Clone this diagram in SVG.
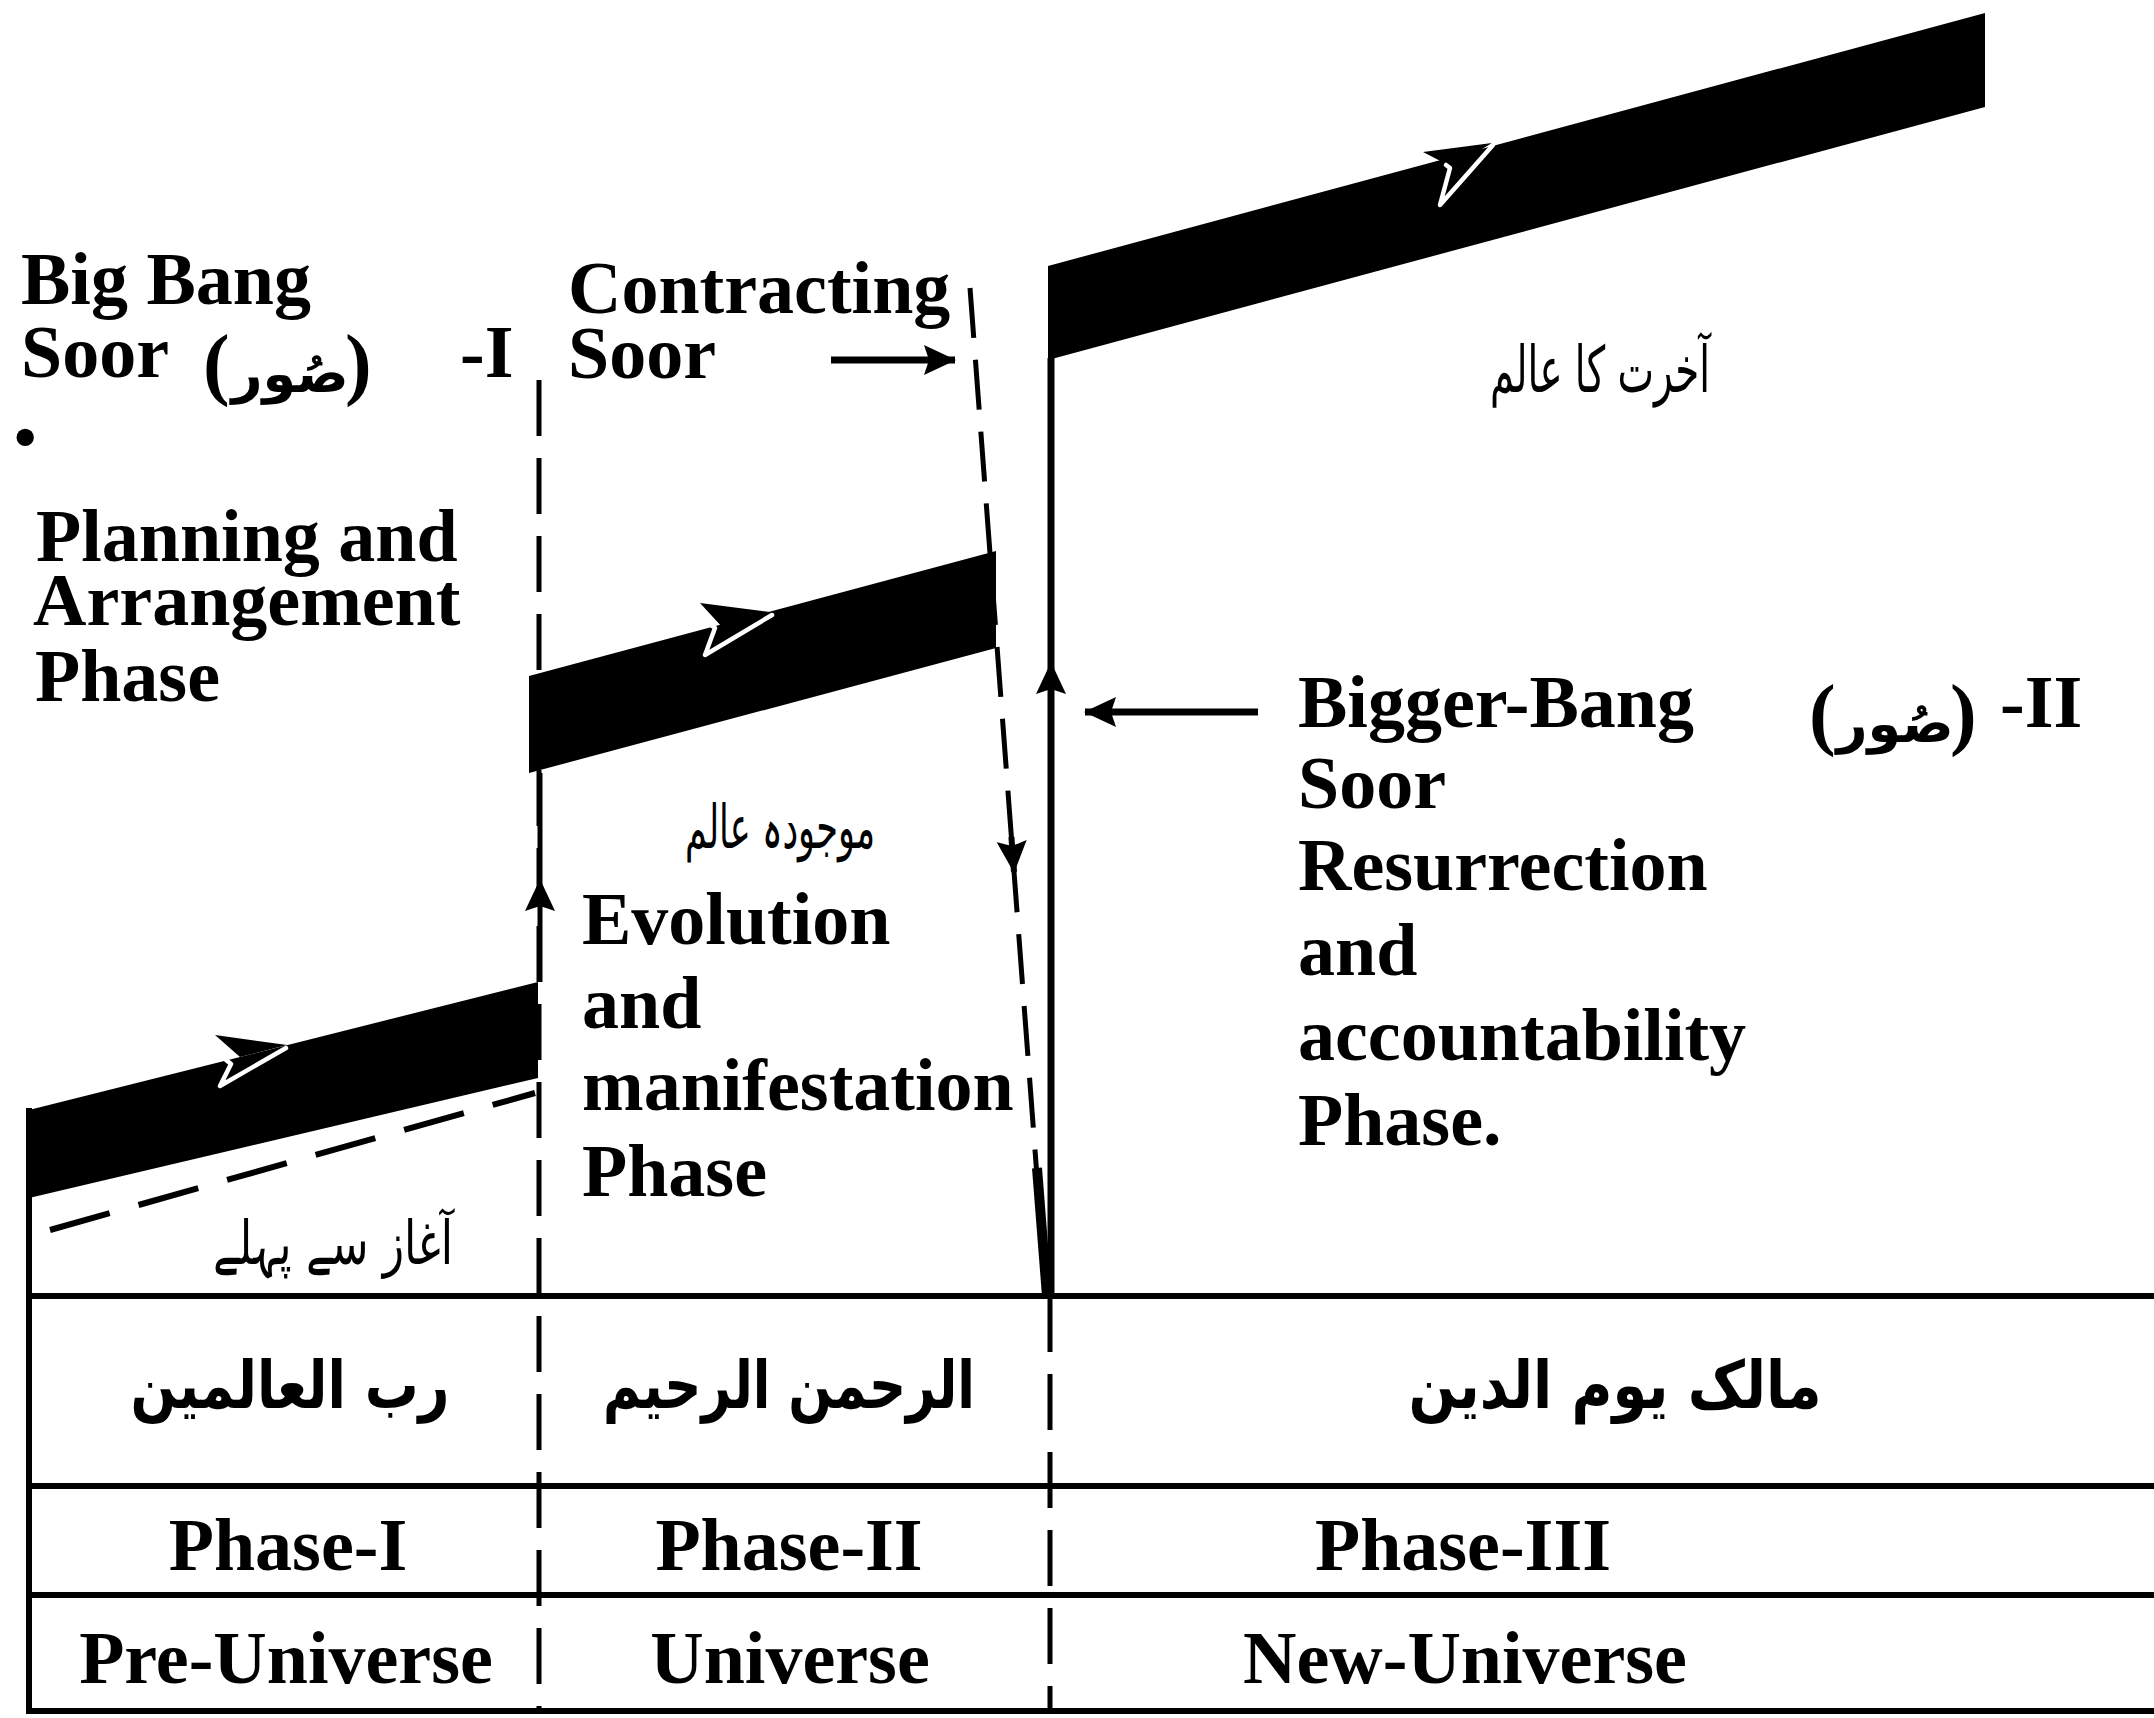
<svg xmlns="http://www.w3.org/2000/svg" width="2154" height="1718" viewBox="0 0 2154 1718">
  <defs>
    <style>
      .en { font-family: "Liberation Serif", "Times New Roman", serif; font-weight: bold; font-size: 74px; fill: #000; }
      .ur { font-family: "DejaVu Sans", sans-serif; fill: #000; }
      .rule { stroke: #000; stroke-width: 6; fill: none; }
      .dash { stroke: #000; stroke-width: 5; fill: none; stroke-dasharray: 56 22; }
      .solid { stroke: #000; stroke-width: 6; fill: none; }
      .band { fill: #000; }
      .chev { fill: none; stroke: #fff; stroke-width: 4.5; stroke-linejoin: round; stroke-linecap: round; }
    </style>
    <marker id="head" viewBox="0 0 32 30" refX="31" refY="15" markerWidth="32" markerHeight="30" markerUnits="userSpaceOnUse" orient="auto">
      <path d="M0,0 L32,15 L0,30 L5,15 z" fill="#000"/>
    </marker>
  </defs>
  <rect width="2154" height="1718" fill="#fff"/>

  <!-- table grid -->
  <g id="table">
    <line class="rule" x1="26" y1="1296" x2="2154" y2="1296"/>
    <line class="rule" x1="26" y1="1486" x2="2154" y2="1486"/>
    <line class="rule" x1="26" y1="1595" x2="2154" y2="1595"/>
    <line class="rule" x1="26" y1="1711" x2="2154" y2="1711"/>
    <line class="rule" x1="29" y1="1108" x2="29" y2="1714"/>
  </g>

  <!-- connectors: phase dividers, flow arrows -->
  <g id="connectors">
    <line class="dash" x1="539" y1="380" x2="539" y2="1714"/>
    <line class="dash" x1="1050" y1="1296" x2="1050" y2="1714"/>
    <line class="dash" x1="50" y1="1230" x2="535" y2="1093" style="stroke-dasharray:62 30;stroke-width:6"/>
    <line class="dash" x1="970" y1="288" x2="1046" y2="1296" style="stroke-dasharray:50 22"/>
    <line class="solid" x1="1011.4" y1="837" x2="1014" y2="872" marker-end="url(#head)"/>
    <line class="solid" x1="1037" y1="1168" x2="1047" y2="1296" style="stroke-width:10"/>
    <line class="solid" x1="540" y1="982" x2="540" y2="880" style="stroke-width:5" marker-end="url(#head)"/>
    <line class="solid" x1="540" y1="880" x2="540" y2="773" style="stroke-width:5"/>
    <line class="solid" x1="1051" y1="1296" x2="1051" y2="663" style="stroke-width:7" marker-end="url(#head)"/>
    <line class="solid" x1="1051" y1="663" x2="1051" y2="358" style="stroke-width:7"/>
    <line class="solid" x1="831" y1="360" x2="955" y2="360" style="stroke-width:7" marker-end="url(#head)"/>
    <line class="solid" x1="1258" y1="712" x2="1085" y2="712" style="stroke-width:7" marker-end="url(#head)"/>
  </g>

  <!-- Phase I: pre-universe stream -->
  <g id="band-pre">
    <polygon class="band" points="29,1110 538,982 538,1078 29,1198"/>
    <polygon class="band" points="215,1035 287,1045 240,1057"/>
    <polyline class="chev" points="226,1060 231,1064 220,1086 286,1048"/>
  </g>

  <!-- Phase II: universe stream -->
  <g id="band-universe">
    <polygon class="band" points="529,676 996,551 996,648 529,773"/>
    <polygon class="band" points="700,603 770,612 723,628"/>
    <polyline class="chev" points="711,625 715,628 705,655 772,615"/>
  </g>

  <!-- Phase III: new-universe stream -->
  <g id="band-new">
    <polygon class="band" points="1048,266 1985,13 1985,107 1048,360"/>
    <polygon class="band" points="1423,152 1492,143 1452,167"/>
    <polyline class="chev" points="1446,165 1450,168 1440,205 1493,145"/>
  </g>

  <!-- left column labels -->
  <g id="label-bigbang">
    <text class="en" x="21" y="304">Big Bang</text>
    <text class="en" x="21" y="377">Soor</text>
    <text class="en" x="203" y="390" style="font-size:80px">(</text>
    <text class="ur" x="290" y="392" text-anchor="middle" style="font-size:54px;font-weight:bold">صُور</text>
    <text class="en" x="345" y="390" style="font-size:80px">)</text>
    <text class="en" x="460" y="377">-I</text>
  </g>
  <g id="label-planning">
    <text class="en" x="14" y="458" style="font-size:64px">•</text>
    <text class="en" x="36" y="561">Planning and</text>
    <text class="en" x="33" y="625">Arrangement</text>
    <text class="en" x="35" y="701">Phase</text>
  </g>
  <g id="label-before">
    <text class="ur" x="333" y="1264" text-anchor="middle" direction="rtl" textLength="240" lengthAdjust="spacingAndGlyphs" style="font-size:60px">آغاز سے پہلے</text>
  </g>

  <!-- middle column labels -->
  <g id="label-contracting">
    <text class="en" x="568" y="313">Contracting</text>
    <text class="en" x="568" y="378">Soor</text>
  </g>
  <g id="label-present">
    <text class="ur" x="780" y="848" text-anchor="middle" direction="rtl" textLength="190" lengthAdjust="spacingAndGlyphs" style="font-size:60px">موجودہ عالم</text>
  </g>
  <g id="label-evolution">
    <text class="en" x="582" y="944">Evolution</text>
    <text class="en" x="582" y="1028">and</text>
    <text class="en" x="582" y="1110">manifestation</text>
    <text class="en" x="582" y="1196">Phase</text>
  </g>

  <!-- right column labels -->
  <g id="label-hereafter">
    <text class="ur" x="1600" y="392" text-anchor="middle" direction="rtl" textLength="220" lengthAdjust="spacingAndGlyphs" style="font-size:64px">آخرت کا عالم</text>
  </g>
  <g id="label-biggerbang">
    <text class="en" x="1298" y="727">Bigger-Bang</text>
    <text class="en" x="1809" y="740" style="font-size:80px">(</text>
    <text class="ur" x="1895" y="742" text-anchor="middle" style="font-size:54px;font-weight:bold">صُور</text>
    <text class="en" x="1950" y="740" style="font-size:80px">)</text>
    <text class="en" x="2000" y="727">-II</text>
    <text class="en" x="1298" y="808">Soor</text>
    <text class="en" x="1298" y="890">Resurrection</text>
    <text class="en" x="1298" y="975">and</text>
    <text class="en" x="1298" y="1060">accountability</text>
    <text class="en" x="1298" y="1145">Phase.</text>
  </g>

  <!-- table cells -->
  <g id="cell-attribute-1">
    <text class="ur" x="290" y="1408" text-anchor="middle" direction="rtl" textLength="319" lengthAdjust="spacingAndGlyphs" style="font-size:66px;font-weight:bold">رب العالمین</text>
  </g>
  <g id="cell-attribute-2">
    <text class="ur" x="789" y="1408" text-anchor="middle" direction="rtl" textLength="372" lengthAdjust="spacingAndGlyphs" style="font-size:66px;font-weight:bold">الرحمن الرحیم</text>
  </g>
  <g id="cell-attribute-3">
    <text class="ur" x="1615" y="1408" text-anchor="middle" direction="rtl" textLength="413" lengthAdjust="spacingAndGlyphs" style="font-size:66px;font-weight:bold">مالک یوم الدین</text>
  </g>
  <g id="cell-phase-1"><text class="en" x="288" y="1570" text-anchor="middle">Phase-I</text></g>
  <g id="cell-phase-2"><text class="en" x="789" y="1570" text-anchor="middle">Phase-II</text></g>
  <g id="cell-phase-3"><text class="en" x="1463" y="1570" text-anchor="middle">Phase-III</text></g>
  <g id="cell-era-1"><text class="en" x="286" y="1683" text-anchor="middle">Pre-Universe</text></g>
  <g id="cell-era-2"><text class="en" x="790" y="1683" text-anchor="middle">Universe</text></g>
  <g id="cell-era-3"><text class="en" x="1465" y="1683" text-anchor="middle">New-Universe</text></g>
</svg>
